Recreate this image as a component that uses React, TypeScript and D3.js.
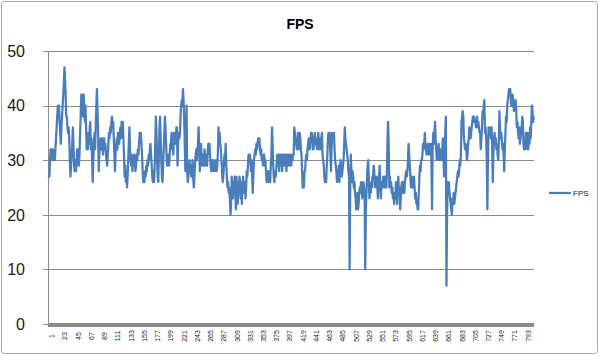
import React from 'react';
import * as d3 from 'd3';

const chartTitle = 'FPS';
const seriesName = 'FPS';
const yTicks = [0, 10, 20, 30, 40, 50];

// FPS samples 1-203
const fpsPart1 = [
  27,27,30,32,31,32,30,32,30,31,
  30,32,34,36,38,40,39,40,37,35,
  33,36,38,40,42,44,47,45,42,38,
  38,36,35,36,34,30,27,29,31,33,
  36,33,29,28,30,28,29,32,30,32,
  29,31,35,38,42,40,42,38,42,40,
  37,40,36,32,34,32,35,33,36,37,
  32,34,30,26,30,33,35,32,36,40,
  43,39,35,28,31,33,34,32,33,34,
  31,33,34,32,33,31,30,29,31,33,
  35,34,36,35,37,38,36,37,34,31,
  28,31,33,34,32,35,34,33,35,36,
  34,37,35,37,34,31,27,29,26,28,
  25,27,30,33,36,32,30,29,31,28,
  30,29,31,30,28,29,31,30,32,31,
  33,35,34,35,33,31,28,26,27,26,
  28,27,29,28,30,29,31,30,32,33,
  31,29,27,26,28,26,29,33,38,35,
  30,27,26,31,36,38,34,30,27,26,
  29,32,35,38,36,33,30,29,31,30,
  29,31,33,
];

// FPS samples 204-402
const fpsPart2 = [
  33,35,32,33,31,35,34,35,33,36,
  36,29,33,35,34,35,38,40,41,40,
  43,41,38,33,28,33,40,28,26,27,
  28,30,28,29,27,28,30,27,25,27,
  29,31,32,30,32,33,36,32,28,30,
  33,31,29,30,31,29,32,30,29,31,
  29,31,33,32,33,31,29,28,30,29,
  28,30,29,28,29,30,28,29,31,36,
  34,35,33,32,30,28,26,27,29,31,
  30,33,29,27,25,26,24,25,23,20,
  22,27,24,23,26,25,27,24,21,27,
  25,22,24,25,27,26,23,24,22,26,
  27,25,24,26,23,25,28,27,29,31,
  30,31,30,28,30,27,24,27,30,31,
  32,31,33,32,33,34,33,34,32,31,
  32,30,31,29,30,31,29,30,28,26,
  27,28,26,27,28,26,29,31,36,33,
  29,27,26,28,27,28,30,31,29,31,
  28,30,31,29,31,28,31,30,31,29,
  31,30,28,31,29,31,30,29,31,
];

// FPS samples 403-601
const fpsPart3 = [
  30,29,31,30,31,31,36,35,33,34,
  32,33,35,32,34,35,34,32,31,28,
  25,26,25,28,28,30,31,30,32,33,
  34,32,32,34,35,35,34,32,32,33,
  35,34,33,33,32,34,35,32,34,32,
  33,34,35,31,30,29,27,26,27,26,
  29,31,34,35,33,35,31,28,32,35,
  35,34,35,32,30,29,28,26,28,27,
  29,26,28,30,29,27,28,29,30,33,
  36,34,33,32,31,30,28,27,10,25,
  31,28,26,28,27,25,26,24,23,21,
  22,24,21,22,24,25,24,26,25,23,
  24,26,25,24,10,21,24,27,29,30,
  26,23,25,24,26,25,27,27,29,28,
  25,26,27,27,25,23,26,27,29,25,
  23,26,26,25,27,26,25,27,26,25,
  28,34,37,33,25,27,25,26,24,25,
  23,24,22,24,23,26,24,22,25,27,
  24,25,21,23,25,26,24,25,26,24,
  26,27,28,27,28,30,33,31,29,
];

// FPS samples 602-807
const fpsPart4 = [
  27,25,27,25,26,25,27,25,23,24,
  22,23,21,21,24,27,29,28,30,30,
  31,33,32,33,35,33,32,31,32,33,
  32,31,33,32,33,30,21,32,35,33,
  35,37,34,32,30,31,32,33,30,31,
  32,31,30,32,34,31,27,31,35,38,
  7,20,26,25,26,24,23,22,21,20,
  23,22,24,22,23,24,25,26,27,28,
  27,28,30,29,31,37,38,39,38,34,
  33,32,33,32,30,31,33,34,36,35,
  34,35,36,37,38,37,38,37,37,36,
  37,38,36,37,36,35,35,32,34,36,
  39,38,40,41,35,36,34,30,21,30,
  36,35,36,35,34,36,33,26,31,34,
  35,33,34,32,33,31,30,33,39,36,
  34,35,34,32,33,31,28,32,35,38,
  37,40,41,42,43,42,43,41,40,40,
  42,41,39,40,40,41,39,36,37,35,
  34,36,33,34,35,36,38,37,33,32,
  34,32,35,33,35,32,32,35,33,36,
  34,37,40,39,37,38,
];

const fps = [...fpsPart1, ...fpsPart2, ...fpsPart3, ...fpsPart4];
const categories = fps.map((_, i) => i + 1);
const tickLabels = categories.filter((c) => (c - 1) % 22 === 0);

export default function App() {
  const W = 600;
  const H = 356;
  const left = 48.5;
  const right = 534;
  const top = 51;
  const bottom = 324;

  const x = d3.scaleBand<number>().domain(categories).range([left, right]);
  const cx = (c: number) => (x(c) as number) + x.bandwidth() / 2;
  const y = d3.scaleLinear().domain([0, 50]).range([bottom, top]);

  const linePath = d3
    .line<number>()
    .x((_, i) => cx(categories[i]))
    .y((d) => y(d))(fps) as string;

  const font = '"Liberation Sans", Arial, sans-serif';

  return (
    <svg
      width={W}
      height={H}
      style={{ position: 'absolute', left: 0, top: 0, background: '#fff' }}
      fontFamily={font}
    >
      <rect x={0} y={0} width={W} height={H} fill="#fff" />
      <rect x={1.5} y={1.5} width={596} height={352} rx={3} fill="none" stroke="#a6a6a6" strokeWidth={1} />
      <text x={300} y={29} textAnchor="middle" fontSize={14} fontWeight="bold" fill="#000">
        {chartTitle}
      </text>

      {yTicks.map((t) => (
        <g key={t}>
          {t > 0 && (
            <line x1={43} x2={right} y1={Math.round(y(t)) + 0.5} y2={Math.round(y(t)) + 0.5} stroke="#8c8c8c" strokeWidth={1} />
          )}
          {t === 0 && (
            <line x1={43} x2={left} y1={Math.round(y(t)) + 0.5} y2={Math.round(y(t)) + 0.5} stroke="#8c8c8c" strokeWidth={1} />
          )}
          <text x={25} y={y(t)} dy="0.36em" textAnchor="end" fontSize={16} fill="#1a1a1a">
            {t}
          </text>
        </g>
      ))}

      <line x1={left} x2={left} y1={top} y2={bottom} stroke="#8c8c8c" strokeWidth={1} />
      <rect x={left - 0.5} y={bottom - 1} width={right - left + 0.5} height={4} fill="#8a8a8a" />

      {tickLabels.map((c) => (
        <text
          key={c}
          transform={`translate(${cx(c) + 3},336) rotate(-90)`}
          textAnchor="middle"
          dy="0.35em"
          fontSize={7}
          fill="#1a1a1a"
        >
          {c}
        </text>
      ))}

      <path d={linePath} fill="none" stroke="#4a7ebb" strokeWidth={2.25} strokeLinejoin="round" strokeLinecap="round" />

      <line x1={549} x2={571} y1={193} y2={193} stroke="#4a7ebb" strokeWidth={2.25} />
      <text x={573} y={193} dy="0.35em" fontSize={8} fill="#1a1a1a">
        {seriesName}
      </text>
    </svg>
  );
}
